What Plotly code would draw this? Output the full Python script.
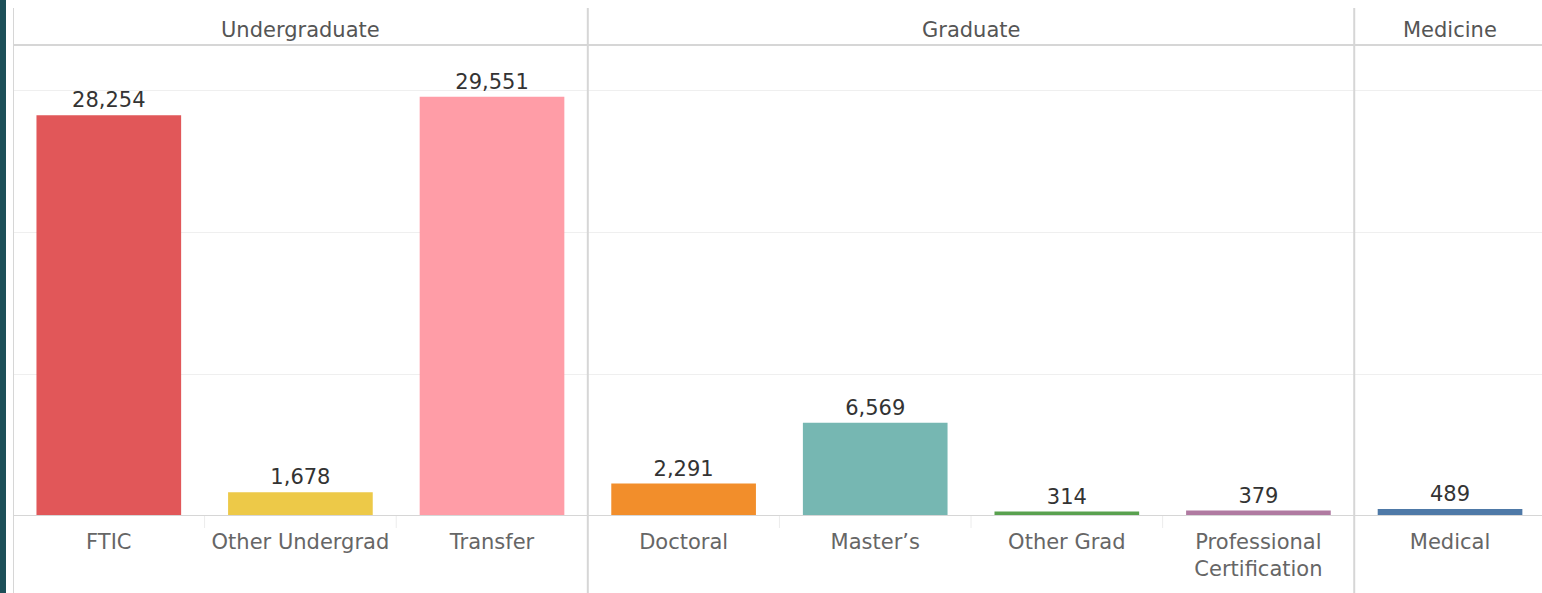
import plotly.graph_objects as go

groups = ["Undergraduate", "Graduate", "Medicine"]
group_sizes = [3, 4, 1]
categories = ["FTIC", "Other Undergrad", "Transfer", "Doctoral", "Master's",
              "Other Grad", "Professional Certification", "Medical"]
tick_labels = ["FTIC", "Other Undergrad", "Transfer", "Doctoral", "Master\u2019s",
               "Other Grad", "Professional<br>Certification", "Medical"]
values = [28254, 1678, 29551, 2291, 6569, 314, 379, 489]
colors = ["#e15759", "#edc948", "#ff9da7", "#f28e2b", "#76b7b2",
          "#59a14f", "#b07aa1", "#4e79a7"]
gridlines = [10000, 20000, 30000]

W, H = 1542, 593
ML, MR, MT, MB = 13, 0, 45, 77
plot_h = H - MT - MB
FONT = "DejaVu Sans"
FS = 21

xs = list(range(len(categories)))
fig = go.Figure()
fig.add_trace(go.Bar(
    x=xs, y=values, marker=dict(color=colors, line=dict(width=0)),
    width=0.755,
    text=[f"{v:,}" for v in values], textposition="outside",
    textfont=dict(family=FONT, size=FS, color="#333333"),
    cliponaxis=False, hoverinfo="skip",
))

def py(pix):
    return (H - MB - pix) / plot_h

shapes = []
line_col = "#d6d6d6"
bounds = [-0.5]
acc = -0.5
for n in group_sizes:
    acc += n
    bounds.append(acc)
for b in bounds[:-1]:
    shapes.append(dict(type="line", xref="x", yref="paper", x0=b, x1=b,
                       y0=py(593), y1=py(8), line=dict(color=line_col, width=2)))
shapes.append(dict(type="line", xref="paper", yref="paper", x0=0, x1=1,
                   y0=1, y1=1, line=dict(color=line_col, width=2)))
shapes.append(dict(type="line", xref="paper", yref="y", x0=0, x1=1,
                   y0=0, y1=0, line=dict(color=line_col, width=2)))
start = 0
for n in group_sizes:
    for k in range(1, n):
        xb = start + k - 0.5
        shapes.append(dict(type="line", xref="x", yref="paper", x0=xb, x1=xb,
                           y0=0, y1=py(528), line=dict(color="#ececec", width=1)))
    start += n
shapes.append(dict(type="rect", xref="paper", yref="paper",
                   x0=-ML / (W - ML - MR), x1=(6 - ML) / (W - ML - MR),
                   y0=py(H + 5), y1=py(-5), fillcolor="#1d4f58", line=dict(width=0),
                   layer="above"))

annotations = []
start = 0
for g, n in zip(groups, group_sizes):
    center = start + (n - 1) / 2
    annotations.append(dict(x=center, xref="x", y=py(30), yref="paper",
                            text=g, showarrow=False, yanchor="middle",
                            font=dict(family=FONT, size=FS, color="#555555")))
    start += n

fig.update_layout(
    width=W, height=H,
    margin=dict(l=ML, r=MR, t=MT, b=MB),
    paper_bgcolor="white", plot_bgcolor="white",
    showlegend=False, shapes=shapes, annotations=annotations,
    xaxis=dict(tickmode="array", tickvals=xs, ticktext=tick_labels,
               range=[-0.5, 7.48], showgrid=False, zeroline=False,
               ticks="", ticklabelstandoff=11,
               tickfont=dict(family=FONT, size=FS, color="#666666"),
               fixedrange=True),
    yaxis=dict(range=[0, 33200], tickvals=gridlines, showticklabels=False,
               showgrid=True, gridcolor="#efefef", gridwidth=1,
               zeroline=False, fixedrange=True),
)

fig.write_html("out.html", config={"displayModeBar": False},
               post_script="document.body.style.margin='0';document.body.style.overflow='hidden';")
